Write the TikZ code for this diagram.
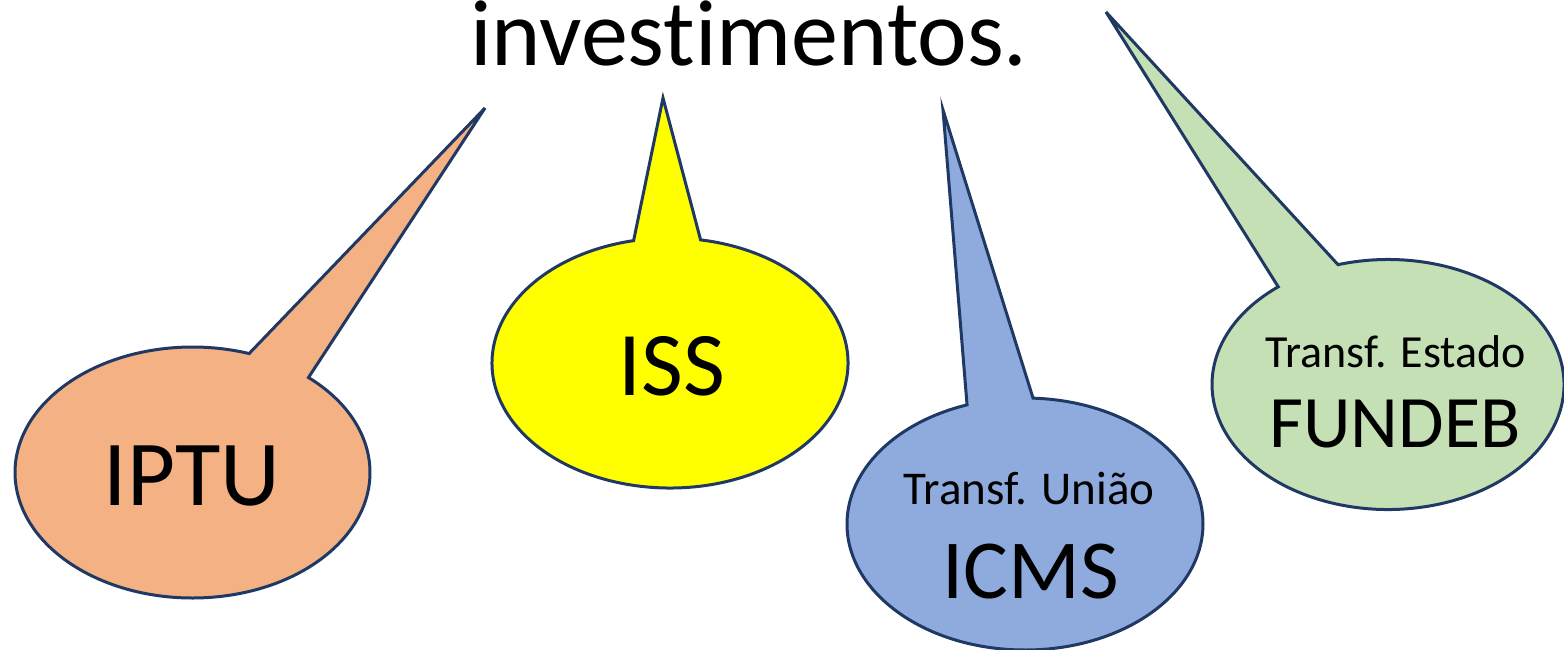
\documentclass[tikz,border=0pt]{standalone}
\usepackage{fontspec}
\setmainfont{Carlito}[Ligatures=NoCommon]
\usetikzlibrary{calc}
\definecolor{outl}{HTML}{1F3864}
\definecolor{cOrange}{HTML}{F4B183}
\definecolor{cYellow}{HTML}{FFFF00}
\definecolor{cBlue}{HTML}{8FAADC}
\definecolor{cGreen}{HTML}{C5E0B4}
\tikzset{
  callout/.style={draw=outl, line width=3pt, line join=miter},
  lbl/.style={inner sep=0pt, anchor=base, text=black},
}
\newcommand{\fs}[1]{\fontsize{#1}{#1}\selectfont}
\begin{document}
\begin{tikzpicture}[x=1pt,y=-1pt]
\useasboundingbox (0,0) rectangle (1564,649);
% title
\node[lbl] (title) at (749,65) {\fs{94}investimentos.};
% IPTU
\coordinate (cA) at (192.5,472.5);
\coordinate (tA) at (485,108);
\draw[callout, fill=cOrange] (tA) -- ($(cA)+(-49.2:177.5 and 125.5)$)
  arc[start angle=-49.2, end angle=288.6, x radius=177.5, y radius=125.5] -- cycle;
\node[lbl] (iptu) at (192,505) {\fs{93}IPTU};
% ISS
\coordinate (cB) at (670,363);
\coordinate (tB) at (663,98);
\draw[callout, fill=cYellow] (tB) -- ($(cB)+(-80.1:178 and 125)$)
  arc[start angle=-80.1, end angle=258.2, x radius=178, y radius=125] -- cycle;
\node[lbl] (iss) at (672,395) {\fs{91}ISS};
% ICMS
\coordinate (cC) at (1025,524);
\coordinate (tC) at (943,110);
\draw[callout, fill=cBlue] (tC) -- ($(cC)+(-87.4:178 and 126)$)
  arc[start angle=-87.4, end angle=251, x radius=178, y radius=126] -- cycle;
\node[lbl] (uniao) at (1029,504) {\fs{47}Transf. União};
\node[lbl] (icms) at (1031,598) {\fs{84}ICMS};
% FUNDEB
\coordinate (cD) at (1388,384.5);
\coordinate (tD) at (1106,12);
\draw[callout, fill=cGreen] (tD) -- ($(cD)+(-106.5:176 and 125)$)
  arc[start angle=-106.5, end angle=231.4, x radius=176, y radius=125] -- cycle;
\node[lbl] (estado) at (1396,367) {\fs{46}Transf. Estado};
\node[lbl] (fundeb) at (1395,447) {\fs{74}FUNDEB};
\end{tikzpicture}
\end{document}
